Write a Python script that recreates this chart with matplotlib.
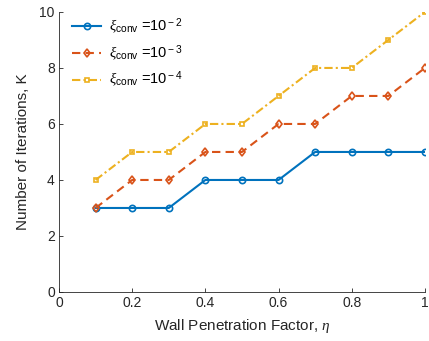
import matplotlib
matplotlib.use("Agg")
import matplotlib.pyplot as plt
import numpy as np

plt.rcParams['font.family'] = ['Liberation Sans', 'DejaVu Sans']
plt.rcParams['mathtext.fontset'] = 'custom'
plt.rcParams['mathtext.rm'] = 'Liberation Sans'
plt.rcParams['mathtext.sf'] = 'Liberation Sans'
plt.rcParams['mathtext.it'] = 'Liberation Serif:italic'

# data
eta = [0.1, 0.2, 0.3, 0.4, 0.5, 0.6, 0.7, 0.8, 0.9, 1.0]
k_1e2 = [3, 3, 3, 4, 4, 4, 5, 5, 5, 5]
k_1e3 = [3, 4, 4, 5, 5, 6, 6, 7, 7, 8]
k_1e4 = [4, 5, 5, 6, 6, 7, 8, 8, 9, 10]
labels = [r'$\xi_{\rm conv}$ =10$^{\rm -2}$',
          r'$\xi_{\rm conv}$ =10$^{\rm -3}$',
          r'$\xi_{\rm conv}$ =10$^{\rm -4}$']

fig = plt.figure(figsize=(4.29, 3.41), dpi=100)
ax = fig.add_axes([0.1375, 0.1437, 0.853, 0.8213])

ax.plot(eta, k_1e2, '-o', color='#0072BD', lw=1.5, ms=4.5, mfc='none', mew=1.2, label=labels[0])
ax.plot(eta, k_1e3, '--d', color='#D95319', lw=1.5, ms=4.5, mfc='none', mew=1.2,
        dashes=(4, 2.5), label=labels[1])
ax.plot(eta, k_1e4, '-.s', color='#EDB120', lw=1.5, ms=3.5, mfc='none', mew=1.2,
        dashes=(4, 1.5, 1, 1.5), label=labels[2])

ax.set_xlim(0, 1)
ax.set_ylim(0, 10)
ax.set_xticks(np.arange(0, 1.01, 0.2))
ax.set_xticklabels(['0', '0.2', '0.4', '0.6', '0.8', '1'])
ax.set_yticks(range(0, 11, 2))
ax.spines['top'].set_visible(False)
ax.spines['right'].set_visible(False)
for s in ['left', 'bottom']:
    ax.spines[s].set_color('#262626')
    ax.spines[s].set_linewidth(0.6)
ax.tick_params(direction='in', length=3, width=0.6, colors='#262626', labelsize=10, pad=3)

ax.set_xlabel(r'Wall Penetration Factor, $\eta$', fontsize=11, color='#262626', labelpad=5)
ax.set_ylabel('Number of Iterations, K', fontsize=11, color='#262626', labelpad=7)

ax.legend(loc='upper left', frameon=False, fontsize=10.5, handlelength=2.0,
          bbox_to_anchor=(0.0, 1.03), labelspacing=0.45, handletextpad=0.5)

fig.savefig('out.png', dpi=100)
